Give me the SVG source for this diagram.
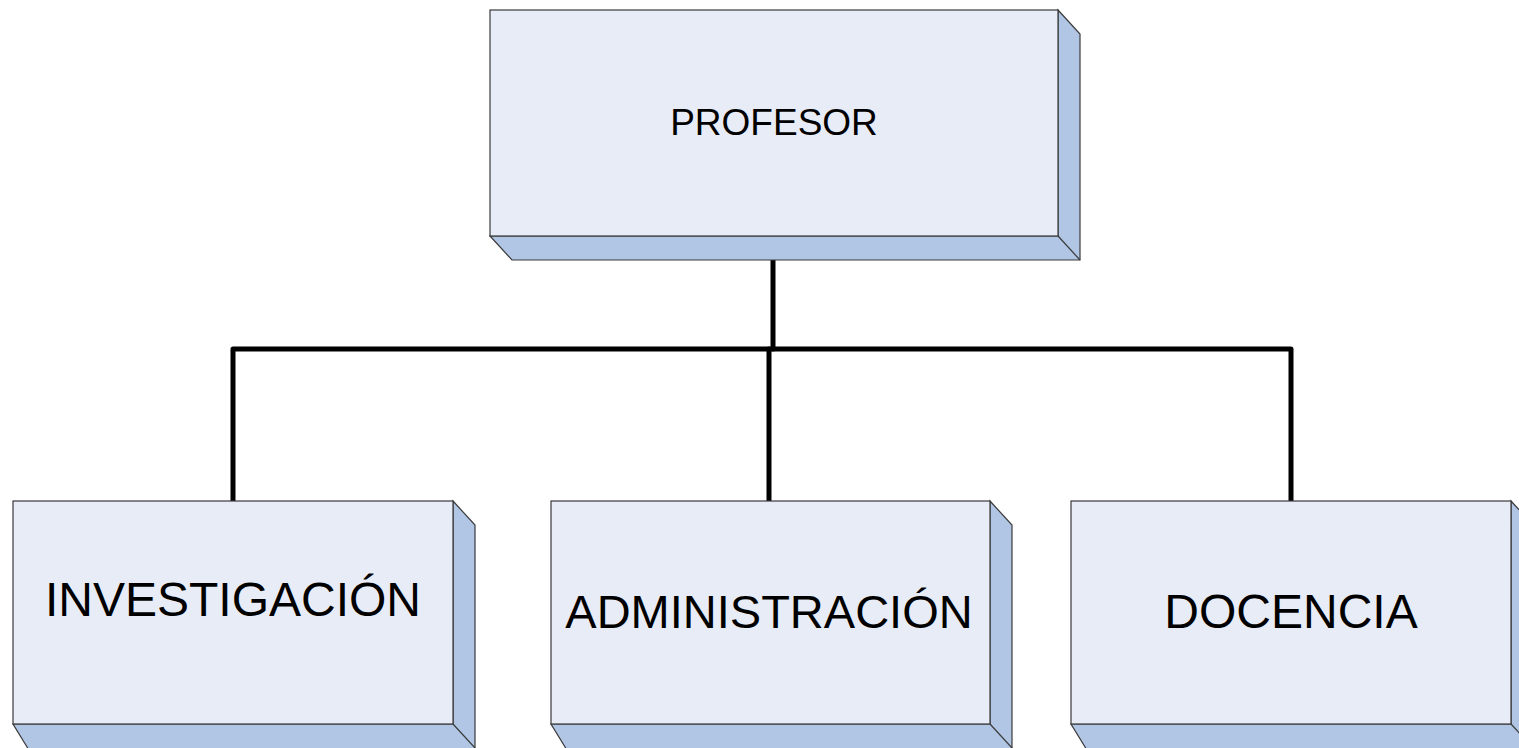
<svg xmlns="http://www.w3.org/2000/svg" width="1519" height="748" viewBox="0 0 1519 748">
<style>
.front{fill:#E8ECF7;stroke:#3a3a3a;stroke-width:1.2}
.side{fill:#B0C6E4;stroke:#3a3a3a;stroke-width:1.2;stroke-linejoin:miter}
.edge{stroke:#3a3a3a;stroke-width:1.2}
.lbl{font-family:"Liberation Sans",Arial,sans-serif;fill:#000;text-anchor:middle}
.conn{fill:none;stroke:#000;stroke-width:5;stroke-linecap:round;stroke-linejoin:round}
</style>
<rect width="1519" height="748" fill="#fff"/>
<g id="connectors">
<path class="conn" d="M773,237 V349"/>
<path class="conn" d="M233,501 V349 H1291 V501"/>
<path class="conn" d="M769,349 V501"/>
</g>
<g id="node-profesor">
<polygon class="side" points="1058,10 1080,34 1080,260 512,260 490,236 1058,236"/>
<rect class="front" x="490" y="10" width="568" height="226"/>
<line class="edge" x1="1058" y1="236" x2="1080" y2="260"/>
<text class="lbl" x="774" y="135" font-size="37">PROFESOR</text>
</g>
<g id="node-investigacion">
<polygon class="side" points="453,501 475,525 475,760 35,760 13,724 453,724"/>
<rect class="front" x="13" y="501" width="440" height="223"/>
<line class="edge" x1="453" y1="724" x2="475" y2="748"/>
<text class="lbl" x="233" y="616" font-size="48">INVESTIGACIÓN</text>
</g>
<g id="node-administracion">
<polygon class="side" points="990,501 1012,525 1012,760 573,760 551,724 990,724"/>
<rect class="front" x="551" y="501" width="439" height="223"/>
<line class="edge" x1="990" y1="724" x2="1012" y2="748"/>
<text class="lbl" x="769" y="628" font-size="47">ADMINISTRACIÓN</text>
</g>
<g id="node-docencia">
<polygon class="side" points="1511,501 1533,525 1533,760 1093,760 1071,724 1511,724"/>
<rect class="front" x="1071" y="501" width="440" height="223"/>
<line class="edge" x1="1511" y1="724" x2="1533" y2="748"/>
<text class="lbl" x="1291" y="628" font-size="48">DOCENCIA</text>
</g>
</svg>
